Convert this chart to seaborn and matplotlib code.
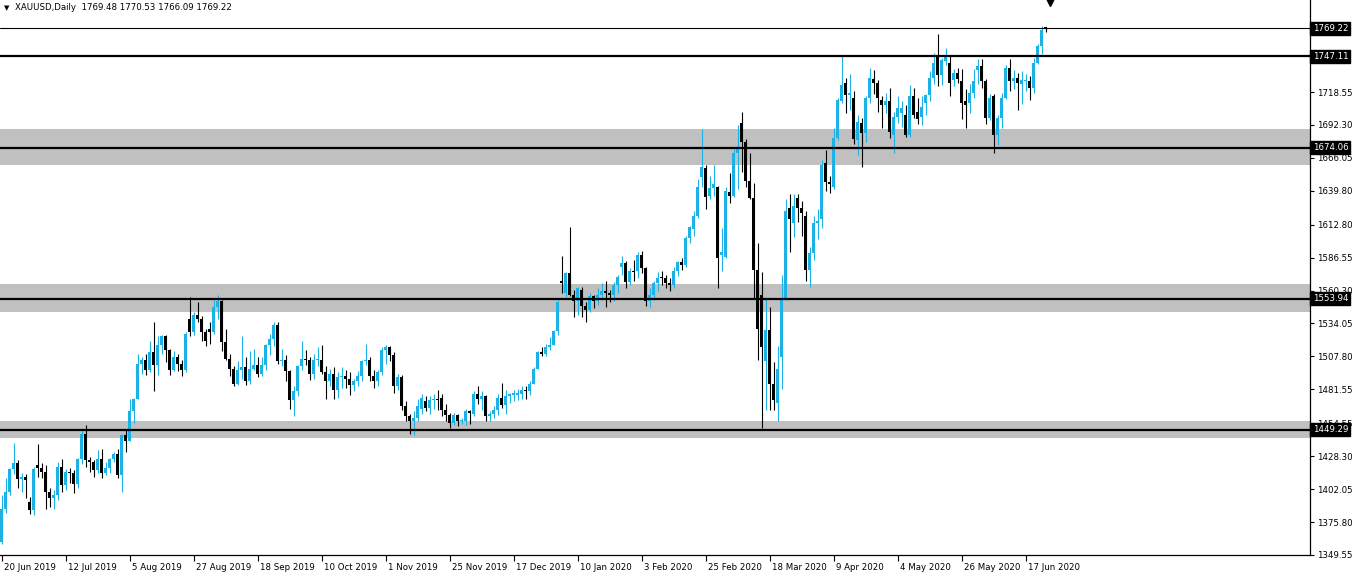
import matplotlib
matplotlib.use("Agg")
import matplotlib.pyplot as plt
import matplotlib.transforms as mtransforms
import seaborn as sns

# XAUUSD daily, 20 Jun 2019 - 24 Jun 2020
opens = [1360, 1386, 1400, 1418, 1423, 1410, 1412, 1392, 1385, 1421,
         1419, 1416, 1400, 1395, 1397, 1420, 1405, 1416, 1415, 1406,
         1426, 1446, 1425, 1424, 1417, 1426, 1415, 1419, 1426, 1430,
         1413, 1445, 1440, 1464, 1474, 1502, 1505, 1497, 1511, 1501,
         1517, 1524, 1513, 1497, 1507, 1502, 1497, 1538, 1527, 1541,
         1538, 1527, 1530, 1527, 1547, 1552, 1519, 1506, 1498, 1486,
         1497, 1499, 1488, 1498, 1501, 1494, 1501, 1517, 1522, 1533,
         1504, 1505, 1496, 1473, 1480, 1500, 1506, 1505, 1494, 1505,
         1505, 1495, 1488, 1494, 1481, 1491, 1492, 1490, 1485, 1488,
         1492, 1504, 1505, 1492, 1488, 1495, 1513, 1515, 1509, 1484,
         1491, 1468, 1460, 1456, 1459, 1466, 1472, 1467, 1473, 1474,
         1475, 1465, 1461, 1455, 1461, 1456, 1456, 1464, 1462, 1478,
         1474, 1476, 1460, 1462, 1465, 1475, 1469, 1476, 1477, 1477,
         1478, 1481, 1480, 1486, 1498, 1511, 1510, 1515, 1517, 1528,
         1568, 1558, 1574, 1557, 1552, 1561, 1548, 1545, 1556, 1552,
         1557, 1560, 1558, 1557, 1565, 1579, 1582, 1567, 1576, 1576,
         1589, 1578, 1552, 1557, 1566, 1571, 1570, 1566, 1565, 1576,
         1583, 1581, 1602, 1609, 1620, 1651, 1658, 1636, 1642, 1643,
         1589, 1587, 1639, 1636, 1670, 1694, 1679, 1648, 1634, 1577,
         1557, 1504, 1529, 1486, 1471, 1507, 1553, 1626, 1614, 1634,
         1626, 1620, 1577, 1590, 1614, 1617, 1662, 1647, 1643, 1682,
         1711, 1726, 1716, 1714, 1680, 1694, 1686, 1714, 1729, 1726,
         1712, 1708, 1711, 1684, 1699, 1702, 1700, 1684, 1715, 1703,
         1699, 1710, 1716, 1730, 1747, 1732, 1743, 1742, 1728, 1734,
         1727, 1711, 1710, 1718, 1736, 1739, 1727, 1698, 1715, 1684,
         1698, 1714, 1738, 1727, 1730, 1725, 1727, 1727, 1722, 1742,
         1755, 1769.48]
highs = [1397, 1411, 1419, 1439, 1425, 1415, 1414, 1396, 1420, 1438,
         1423, 1421, 1403, 1401, 1424, 1426, 1418, 1419, 1417, 1427,
         1448, 1453, 1428, 1425, 1433, 1434, 1424, 1427, 1432, 1434,
         1446, 1449, 1474, 1475, 1510, 1507, 1510, 1520, 1535, 1524,
         1525, 1525, 1514, 1512, 1510, 1505, 1527, 1555, 1543, 1551,
         1540, 1530, 1535, 1553, 1557, 1553, 1530, 1510, 1500, 1504,
         1524, 1507, 1512, 1514, 1507, 1507, 1518, 1526, 1535, 1535,
         1514, 1509, 1497, 1484, 1501, 1520, 1513, 1507, 1510, 1515,
         1517, 1500, 1498, 1499, 1495, 1499, 1497, 1495, 1490, 1496,
         1505, 1518, 1507, 1497, 1497, 1515, 1517, 1516, 1511, 1494,
         1493, 1472, 1462, 1464, 1474, 1478, 1476, 1476, 1478, 1481,
         1478, 1470, 1463, 1463, 1462, 1459, 1466, 1465, 1480, 1484,
         1480, 1477, 1464, 1468, 1478, 1487, 1481, 1479, 1481, 1482,
         1484, 1484, 1488, 1499, 1512, 1515, 1518, 1523, 1529, 1553,
         1588, 1575, 1611, 1561, 1563, 1563, 1551, 1558, 1557, 1562,
         1566, 1568, 1561, 1567, 1573, 1588, 1584, 1578, 1585, 1591,
         1592, 1579, 1562, 1568, 1575, 1576, 1573, 1570, 1579, 1584,
         1586, 1604, 1612, 1624, 1649, 1689, 1660, 1652, 1660, 1644,
         1610, 1643, 1654, 1673, 1692, 1703, 1681, 1670, 1646, 1598,
         1575, 1555, 1547, 1503, 1516, 1573, 1633, 1637, 1637, 1637,
         1632, 1624, 1595, 1620, 1625, 1664, 1672, 1652, 1690, 1714,
         1747, 1730, 1733, 1719, 1700, 1698, 1715, 1738, 1736, 1728,
         1715, 1718, 1722, 1703, 1715, 1711, 1708, 1724, 1722, 1714,
         1715, 1717, 1735, 1750, 1765, 1746, 1754, 1748, 1737, 1738,
         1737, 1721, 1725, 1737, 1745, 1745, 1729, 1717, 1717, 1700,
         1718, 1740, 1745, 1736, 1734, 1735, 1733, 1731, 1746, 1757,
         1771, 1770.53]
lows = [1358, 1383, 1397, 1414, 1403, 1400, 1395, 1382, 1381, 1412,
        1411, 1386, 1388, 1386, 1393, 1400, 1401, 1407, 1399, 1403,
        1422, 1420, 1416, 1412, 1415, 1411, 1413, 1415, 1424, 1411,
        1400, 1432, 1440, 1455, 1474, 1494, 1493, 1495, 1480, 1493,
        1510, 1503, 1493, 1496, 1496, 1492, 1495, 1524, 1525, 1535,
        1520, 1516, 1518, 1526, 1538, 1512, 1505, 1492, 1484, 1485,
        1490, 1485, 1486, 1497, 1491, 1492, 1497, 1509, 1516, 1502,
        1500, 1488, 1466, 1460, 1476, 1497, 1501, 1489, 1490, 1500,
        1494, 1474, 1484, 1474, 1475, 1483, 1483, 1477, 1480, 1484,
        1488, 1501, 1488, 1483, 1484, 1493, 1502, 1504, 1479, 1481,
        1465, 1456, 1446, 1445, 1456, 1462, 1464, 1462, 1466, 1465,
        1460, 1456, 1451, 1453, 1452, 1454, 1453, 1454, 1460, 1470,
        1465, 1456, 1456, 1459, 1461, 1467, 1462, 1471, 1472, 1473,
        1474, 1474, 1477, 1486, 1498, 1508, 1508, 1513, 1517, 1525,
        1558, 1555, 1556, 1539, 1541, 1539, 1535, 1543, 1546, 1549,
        1554, 1547, 1551, 1552, 1558, 1573, 1562, 1565, 1568, 1570,
        1574, 1548, 1547, 1553, 1560, 1565, 1562, 1560, 1562, 1572,
        1577, 1579, 1598, 1604, 1618, 1643, 1625, 1633, 1636, 1562,
        1576, 1586, 1630, 1635, 1641, 1655, 1643, 1633, 1554, 1505,
        1451, 1465, 1465, 1465, 1456, 1482, 1553, 1591, 1603, 1615,
        1604, 1568, 1563, 1585, 1601, 1610, 1640, 1638, 1641, 1680,
        1710, 1702, 1704, 1677, 1668, 1659, 1679, 1710, 1717, 1703,
        1690, 1702, 1682, 1670, 1694, 1691, 1683, 1683, 1698, 1693,
        1692, 1700, 1711, 1725, 1723, 1724, 1740, 1715, 1723, 1726,
        1697, 1690, 1702, 1714, 1725, 1722, 1693, 1696, 1670, 1676,
        1690, 1713, 1719, 1721, 1704, 1709, 1719, 1712, 1718, 1741,
        1749, 1766.09]
closes = [1386, 1400, 1418, 1423, 1410, 1412, 1409, 1385, 1418, 1419,
          1416, 1400, 1395, 1397, 1420, 1405, 1416, 1415, 1406, 1426,
          1446, 1425, 1424, 1417, 1426, 1415, 1419, 1426, 1430, 1413,
          1445, 1440, 1464, 1474, 1502, 1505, 1497, 1511, 1501, 1517,
          1524, 1513, 1497, 1507, 1502, 1497, 1526, 1527, 1541, 1538,
          1527, 1520, 1527, 1547, 1552, 1519, 1506, 1498, 1486, 1497,
          1499, 1488, 1498, 1501, 1494, 1501, 1517, 1522, 1533, 1504,
          1505, 1496, 1473, 1480, 1500, 1506, 1505, 1494, 1505, 1505,
          1495, 1488, 1494, 1481, 1491, 1492, 1490, 1485, 1488, 1492,
          1504, 1505, 1492, 1488, 1495, 1513, 1515, 1509, 1484, 1491,
          1468, 1460, 1456, 1459, 1468, 1475, 1467, 1473, 1474, 1473,
          1465, 1461, 1455, 1461, 1456, 1457, 1464, 1463, 1478, 1474,
          1476, 1460, 1462, 1465, 1475, 1469, 1476, 1478, 1479, 1479,
          1481, 1480, 1486, 1498, 1511, 1510, 1515, 1517, 1528, 1551,
          1566, 1574, 1557, 1552, 1562, 1548, 1545, 1556, 1552, 1557,
          1560, 1558, 1557, 1565, 1571, 1582, 1567, 1576, 1575, 1589,
          1578, 1552, 1557, 1566, 1570, 1570, 1566, 1565, 1576, 1583,
          1581, 1602, 1611, 1620, 1643, 1659, 1635, 1642, 1645, 1586,
          1591, 1640, 1636, 1670, 1674, 1679, 1648, 1634, 1577, 1530,
          1515, 1529, 1486, 1473, 1498, 1553, 1624, 1617, 1628, 1626,
          1622, 1577, 1590, 1614, 1616, 1660, 1647, 1645, 1682, 1712,
          1724, 1716, 1718, 1681, 1695, 1686, 1714, 1730, 1726, 1714,
          1708, 1711, 1687, 1699, 1706, 1706, 1684, 1715, 1700, 1697,
          1707, 1716, 1730, 1742, 1732, 1744, 1747, 1726, 1734, 1729,
          1710, 1708, 1718, 1727, 1739, 1727, 1698, 1714, 1684, 1698,
          1714, 1738, 1727, 1730, 1726, 1728, 1728, 1722, 1742, 1755,
          1768, 1769.22]

date_labels = ["20 Jun 2019", "12 Jul 2019", "5 Aug 2019", "27 Aug 2019",
               "18 Sep 2019", "10 Oct 2019", "1 Nov 2019", "25 Nov 2019",
               "17 Dec 2019", "10 Jan 2020", "3 Feb 2020", "25 Feb 2020",
               "18 Mar 2020", "9 Apr 2020", "4 May 2020", "26 May 2020",
               "17 Jun 2020"]
bars_per_label = 16

price_ticks = [1349.55, 1375.80, 1402.05, 1428.30, 1454.55, 1481.55, 1507.80,
               1534.05, 1560.30, 1586.55, 1612.80, 1639.80, 1666.05, 1692.30,
               1718.55, 1744.80, 1771.05]
hidden_ticks = [1744.80, 1771.05]   # sit under the black price boxes
levels = [1747.11, 1674.06, 1553.94, 1449.29]
bid = 1769.22
zones = [(1660.4, 1689.1), (1543.2, 1565.5), (1442.8, 1456.3)]

up_col = "#1CB2E8"
down_col = "black"

sns.set_theme(style="white")
plt.rcParams["font.family"] = ["DejaVu Sans"]

W, H = 1358, 577
fig = plt.figure(figsize=(W / 100, H / 100), dpi=100)
ax = fig.add_axes([0, 22 / H, 1310 / W, 555 / H])

n = len(closes)
xs = list(range(n))
cols = [up_col if c >= o else down_col for o, c in zip(opens, closes)]

# grey support / resistance zones
for lo, hi in zones:
    ax.axhspan(lo, hi, color="#C0C0C0", lw=0, zorder=1)

# candles
ax.vlines(xs, lows, highs, colors=cols, linewidth=0.8, zorder=3)
bottoms = [min(o, c) for o, c in zip(opens, closes)]
heights = [max(abs(c - o), 0.8) for o, c in zip(opens, closes)]
ax.bar(xs, heights, bottom=bottoms, width=0.75, color=cols, linewidth=0, zorder=3)

# horizontal levels and bid line
for lv in levels:
    ax.axhline(lv, color="black", lw=1.6, zorder=4)
ax.axhline(bid, color="black", lw=0.8, zorder=4)

ax.set_xlim(-0.375, -0.375 + 1310 / 4)
ax.set_ylim(1349.5, 1791.9)

# shift marker at the top
ax.plot([n], [1791.9], marker="v", ms=9, color="black", clip_on=True, zorder=5)

# axes look
for s in ["top", "left"]:
    ax.spines[s].set_visible(False)
for s in ["right", "bottom"]:
    ax.spines[s].set_color("black")
    ax.spines[s].set_linewidth(0.9)
ax.grid(False)

ax.yaxis.tick_right()
ax.set_yticks(price_ticks)
ax.set_yticklabels(["" if p in hidden_ticks else f"{p:.2f}" for p in price_ticks])
ax.tick_params(axis="y", direction="out", length=3, width=0.8, pad=2,
               labelsize=6.2, colors="black")

ax.set_xticks([i * bars_per_label for i in range(len(date_labels))])
ax.set_xticklabels(date_labels, ha="left")
ax.tick_params(axis="x", direction="out", length=4, width=0.8, pad=1.5,
               labelsize=6.2, colors="black", bottom=True)
offset = mtransforms.ScaledTranslation(2 / 100, 0, fig.dpi_scale_trans)
for lab in ax.get_xticklabels():
    lab.set_transform(lab.get_transform() + offset)

# black price boxes on the right axis
trans = mtransforms.blended_transform_factory(ax.transAxes, ax.transData)
for v in [bid] + levels:
    ax.text(1.002, v, f"{v:.2f}", transform=trans, ha="left", va="center",
            fontsize=6.2, color="white", zorder=10, clip_on=False,
            bbox=dict(boxstyle="square,pad=0.25", fc="black", ec="black"))

# header
fig.text(4 / W, 1 - 8 / H, "\u25bc", fontsize=5, va="center", ha="left", color="black")
fig.text(15 / W, 1 - 8 / H, "XAUUSD,Daily  1769.48 1770.53 1766.09 1769.22",
         fontsize=6.2, va="center", ha="left", color="black")

fig.savefig("out.png", dpi=100, facecolor="white")
